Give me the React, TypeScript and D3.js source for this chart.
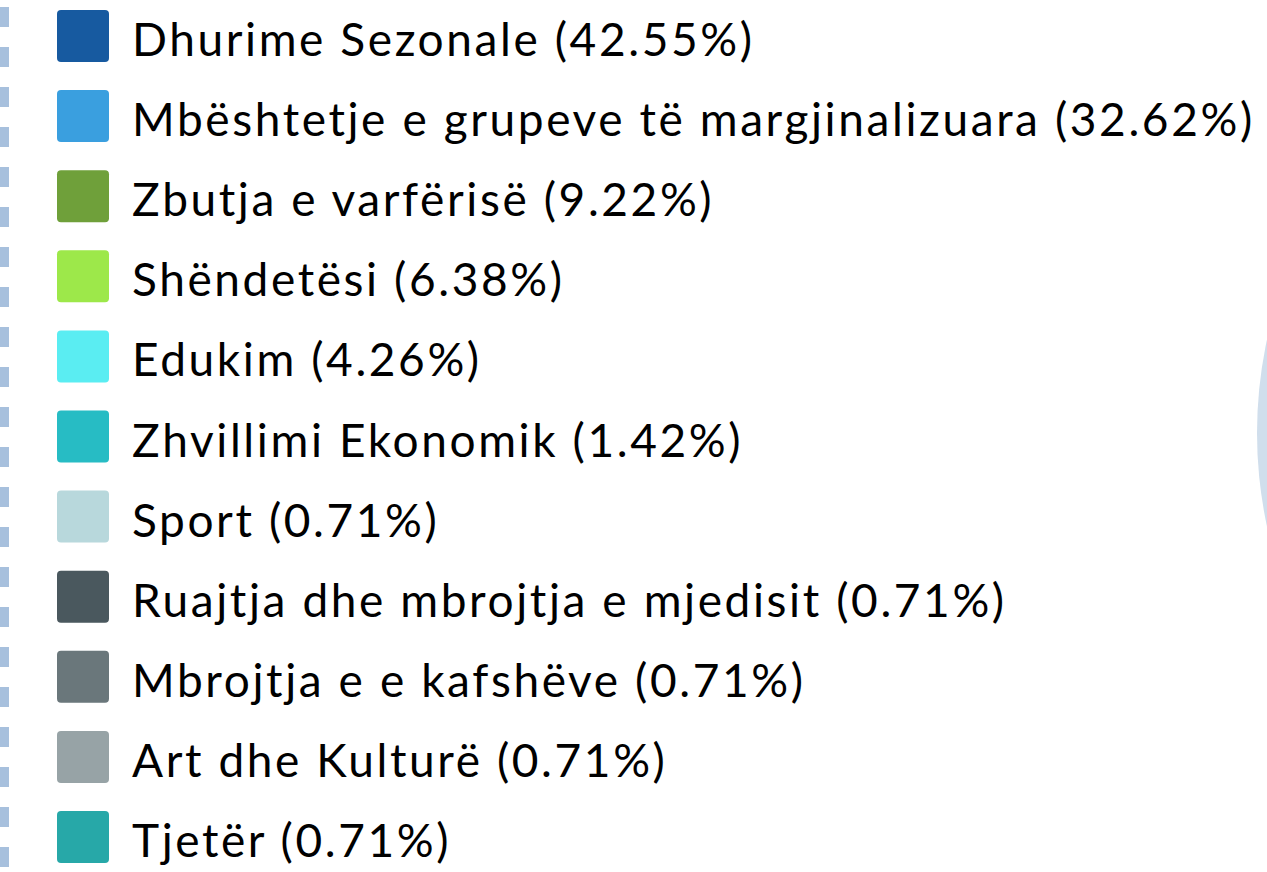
import React from "react";
import * as d3 from "d3";

const categories = [
  "Dhurime Sezonale",
  "Mbështetje e grupeve të margjinalizuara",
  "Zbutja e varfërisë",
  "Shëndetësi",
  "Edukim",
  "Zhvillimi Ekonomik",
  "Sport",
  "Ruajtja dhe mbrojtja e mjedisit",
  "Mbrojtja e e kafshëve",
  "Art dhe Kulturë",
  "Tjetër",
];
const percentages = [42.55, 32.62, 9.22, 6.38, 4.26, 1.42, 0.71, 0.71, 0.71, 0.71, 0.71];
const colors = [
  "#175aa0",
  "#3a9fdf",
  "#6fa03a",
  "#9de84a",
  "#5aedf2",
  "#27bcc4",
  "#b8d8dc",
  "#4a585e",
  "#6a777b",
  "#97a3a6",
  "#27a8a8",
];

const W = 1267;
const H = 872;

export default function App() {
  const y = d3.scalePoint<string>().domain(categories).range([36, 837]);
  const arc = d3.arc<any>()({
    innerRadius: 0,
    outerRadius: 442,
    startAngle: 0,
    endAngle: Math.PI * 2,
  }) as string;
  const dashLine = d3.line()([
    [4.5, 7],
    [4.5, H],
  ]) as string;
  return (
    <svg
      width={W}
      height={H}
      style={{ position: "absolute", left: 0, top: 0, background: "#fff" }}
    >
      <path d={arc} transform={`translate(1699,433)`} fill="#d0deec" />
      <path d={dashLine} stroke="#a7c0dd" strokeWidth={9} strokeDasharray="20 20" fill="none" />
      {categories.map((c, i) => {
        const cy = y(c) as number;
        return (
          <g key={c} transform={`translate(0,${cy})`}>
            <rect x={57} y={-26} width={52} height={52} rx={4} ry={4} fill={colors[i]} />
            <text
              x={132}
              y={20}
              fontFamily="Lato, 'Open Sans', sans-serif"
              fontSize={46}
              letterSpacing={2.6}
              fill="#000"
            >
              {`${c} (${percentages[i].toFixed(2)}%)`}
            </text>
          </g>
        );
      })}
    </svg>
  );
}
